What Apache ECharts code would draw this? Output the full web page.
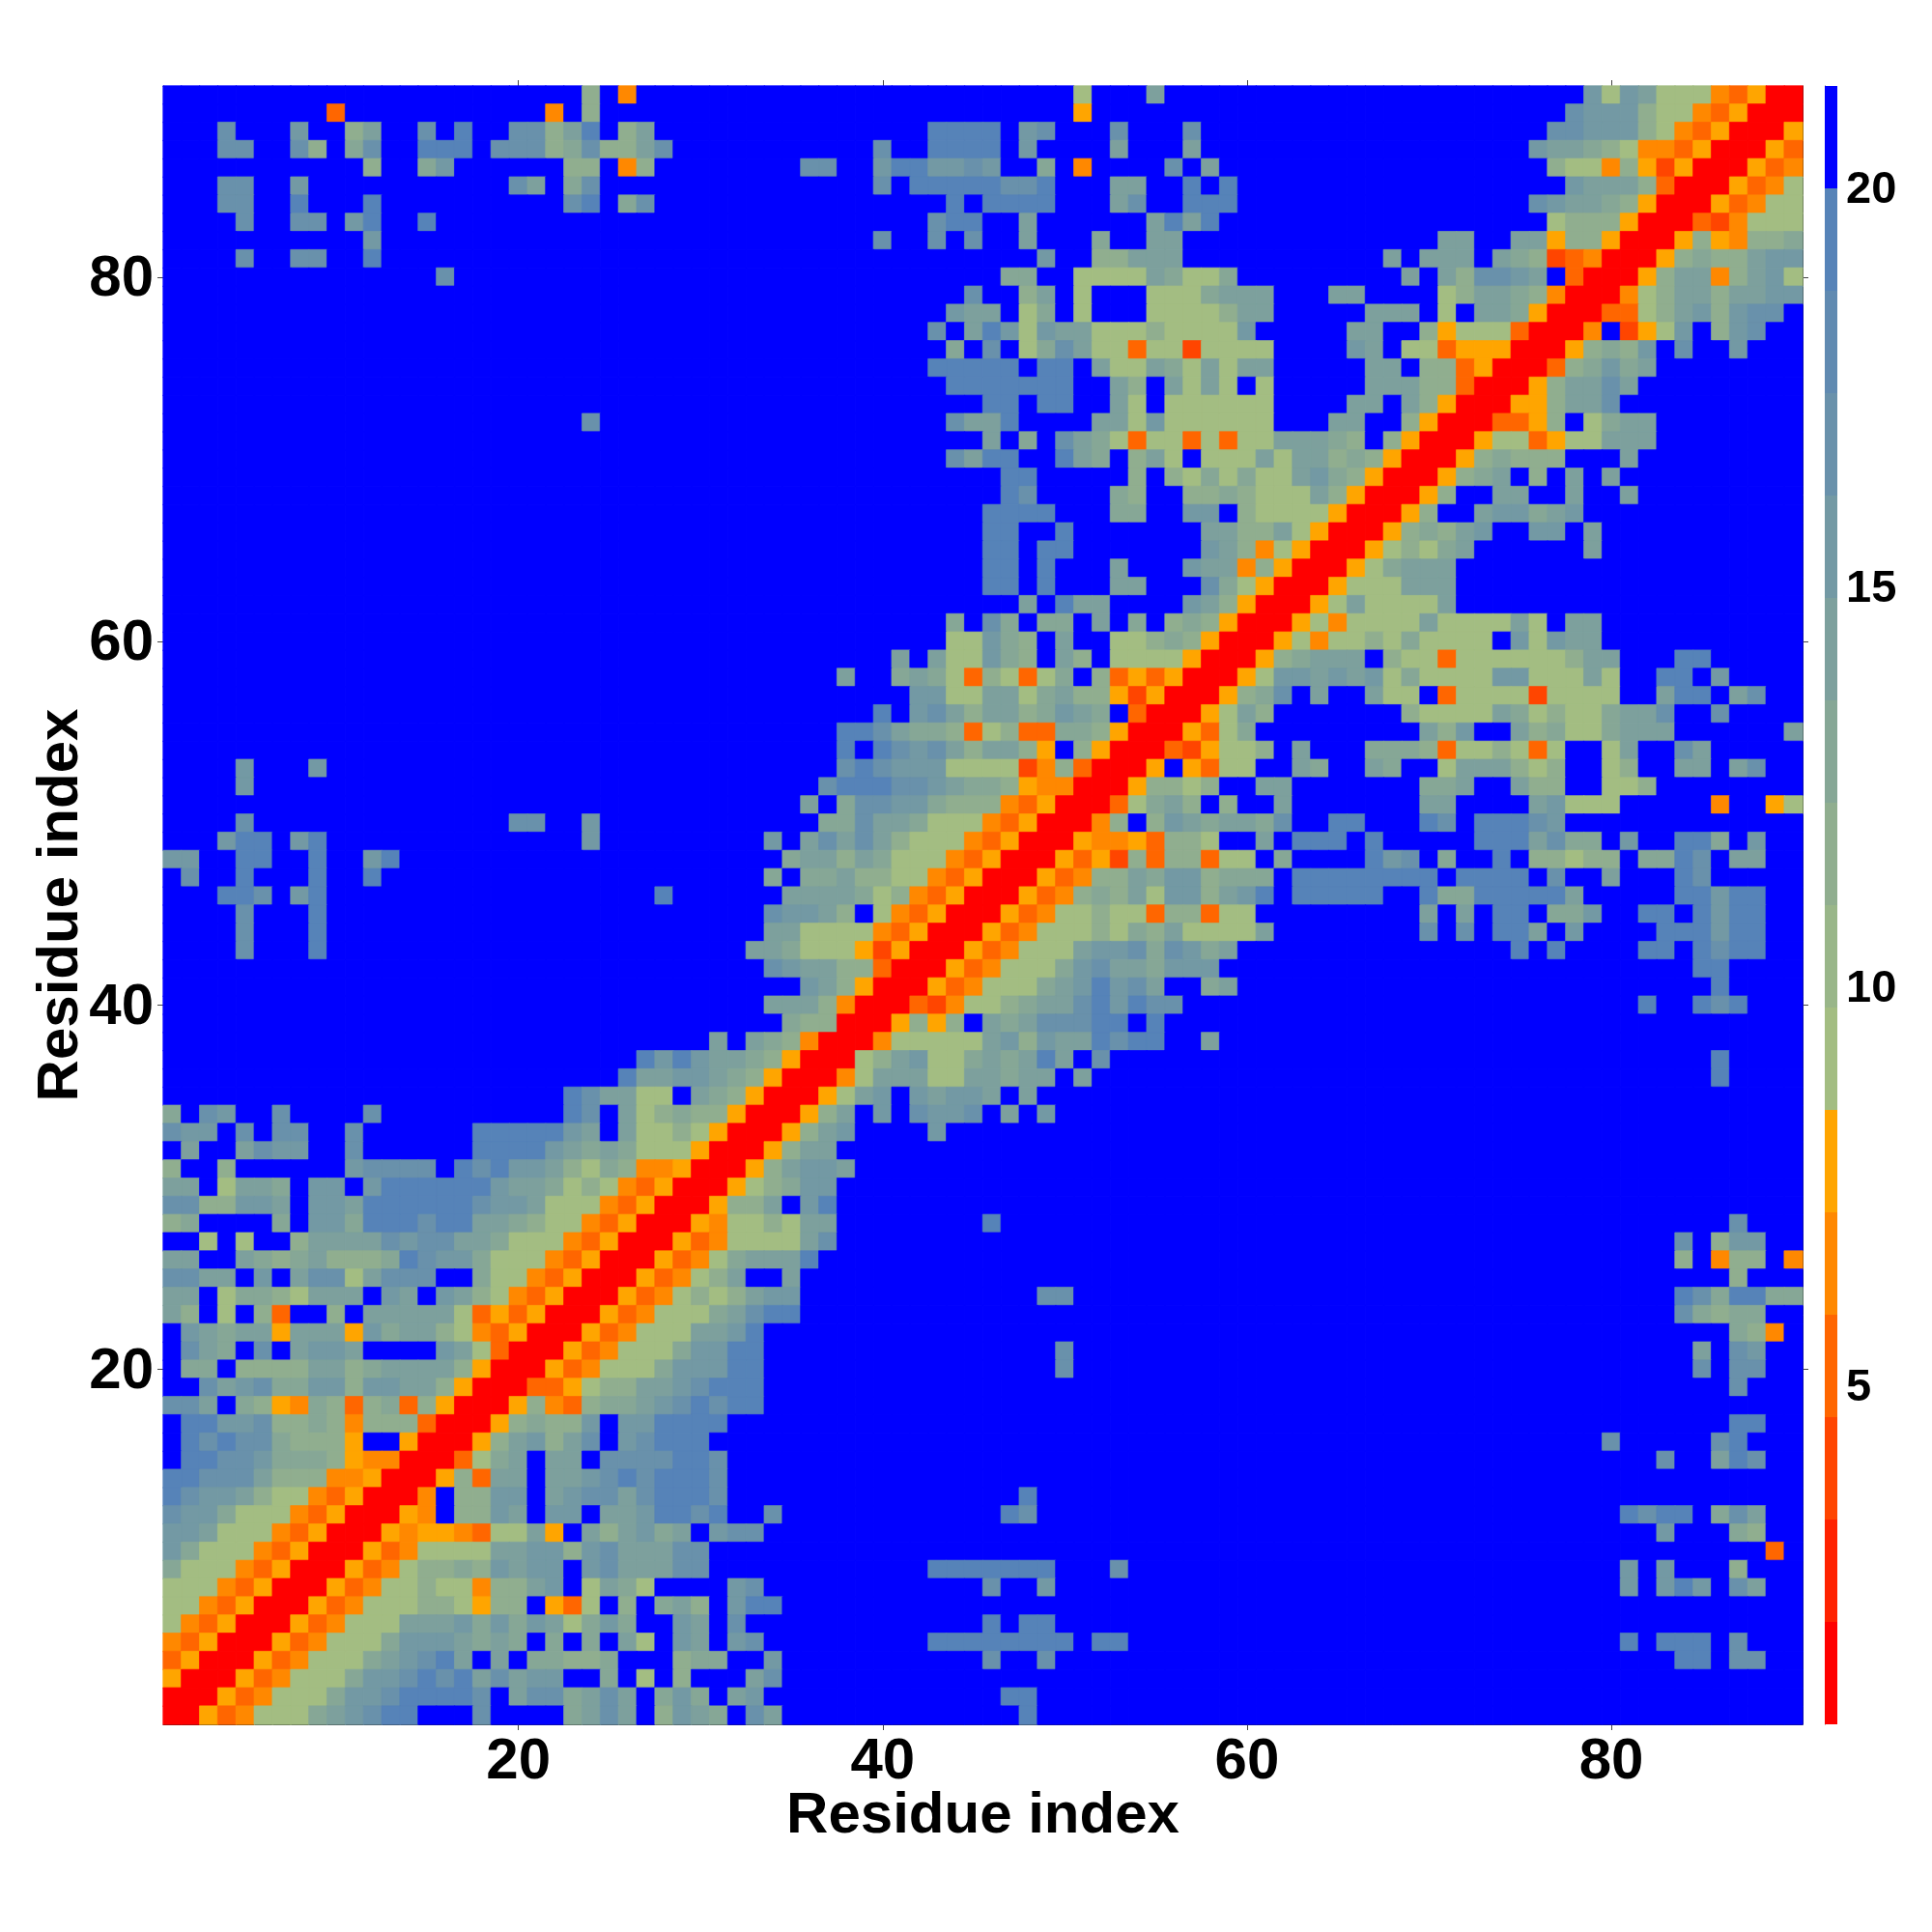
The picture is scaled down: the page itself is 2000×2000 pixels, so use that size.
<!DOCTYPE html>
<html>
<head>
<meta charset="utf-8">
<style>html,body{margin:0;padding:0;background:#fff}#c{width:2000px;height:2000px}</style>
<script src="https://cdn.jsdelivr.net/npm/echarts@6/dist/echarts.min.js"></script>
</head>
<body>
<div id="c"></div>
<script>
// Distance-map cells. One symbol per cell, rows from top (residue 90) down.
// '.' = above 20; 0..5 red to orange bands; 7,8,9,a,b,c,d = green to steel-blue bands.
const topLeft = [
".......................8.4....",
".........3...........4.8......",
"...c...b..8a..c.d..cc8ad.8a...",
"...cc..c8.9c..ddd.ccc89c88ac..",
"...........8..9b......88.48...",
"...cc..b...........ca.9c......",
"...cc..d...d..........cd.9c...",
"....c..cc.bd..d...............",
"...........b..................",
"....c..cc..d..................",
"...............c..............",
"","","","","","","",
".......................c......",
"","","","","","","","","","",""];
const midLeft = [
"","","","","","","",
"....b...b.....................",
"....b.........................",
"",
"....c..............cc..b......",
"...bdd.bd..............b......",
"bb..dd..d..bd.................",
".c..d...d..d..................",
"...ddc.bd..................d..",
"....c...d.....................",
"....c...d.....................",
"....c...d.....................",
"","","","","",
"..........................dbdb",
".........................daabb",
"......................dcaa77.a",
"9.cb..c....c..........dc.a7898",
"cbb.c.cc..c......dddddba.a7787",
".a..acbb..c......ddddba9a97775",
"8..8......bcccc.dcdbba87984450"];
const lowLeft = [
"aa.7aa9.bb.bddddddbaa978743500",
"cc88bba.bbaddddddcbba777435000",
"89....9.bb9dddcddaa98774350005",
"..7.7..8aaaacbccaa977743500053",
"aa..a989a8889dcbb9777435000534",
"ccaa.b.acc7accc..9774350005347",
"aa.79987aaa.ba.ba8743500053478",
"a8.7.83..8.aaaaa73535000534777",
".ba9aa5aaa5b9aa87435000534777a",
".ca9.c.abba....ba730005347779b",
".99.8888aa89aaaa850005347779bb",
"..cabc99bb8bbaa85000335788aabc",
"cca.9854983893850005843899abcd",
".ddbbc88984888300058988b.bbddd",
".dcdcc98885..500058ab8ac.bcddd",
".ddccb9998544000379a.aa.ccccdd",
"ddccca888445000583aa.aabcdcddd",
"dcbba8774350004.88bb.abccacddd",
"cbb977743500054.88ba.bb.aabddc",
"bba77743500054554377a5.a8ab9a.",
"b97774350005347777aabb8bcaaacc",
"977743500053478898babb.bcaaacc",
"77743500053477877488ab.7a97...",
"77435000534777887588.537.8.9a8",
"7435000534777aaab9b9ba79b9..ba",
"4350005347779bbba9a9.9.9.a7.ba",
"350005347779abcda.a.99889...89",
"50005347779bbcdcdacabb..9.7.8.",
"0005347779bbcddddc.acc9aca.9b9",
"005347779abcdd...c....9aca.8ba"];
const topMid = [
"....................7...a.....",
"....................5.........",
"............dddd.bc...c...c...",
".........c..dddd.b....a...a...",
".....cc..bddbbcb..9.4....c.a..",
".........c.dddddccd...aa..d.d.",
".............d.dddd...ac..ddd.",
"............cdd..a......adad..",
".........c..c.c..a...9..aa....",
"..................b..88aaa....",
"................99..7777a9779.",
"..............c..8a.7...7779aa",
".............baa.79.7...77778a",
"............c.adb7baa77787777b",
".............9.c.79ca773772777",
"............ddddd.dd.a77a97a7a",
".............ddddddd..a8.a7a7.",
"...............dd.dd..a7.77777",
".............caad....aa7b77777",
"...............a.9.ca973773737",
".............cadd..da9.8a7.777",
"................dd.....8.87979",
"................dc....98..8898",
"...............dddd...99..bb.8",
"...............dd..d.......aa8",
"...............dd.dd.......ba8",
"...............dd.d...a...baa4",
"...............dd.d...aa...c97",
".................a.daa....ba85",
".............9.c9.99.a.9.89850"];
const midMid = [
".............77b98.a..77898500",
"..........a.a77b98.a8.77775000",
".......a..9a97387379.835350005",
"...........bb77aa79a8852500058",
".........d.bca8aa89ba9.300057a",
".......ddca9983783399850005379",
".......d.dcbca8aa85.8500032577",
".......cdcbbb777724830005.5377",
"......cdddccba99854400058878..",
".....a.9ccbb9888435000379a8.8.",
"......99caa977743500048.8ba9aa",
"...b.acaca877743500054453887..",
"....9aa8a977743500053528388377",
"...9.99a887743500053488a9bb899",
"....aaaa978435000534898a7bb8ab",
"...cbba8.743500053477877388377",
"...aa77774350005347778798a7777",
"..aa9777525000534777abbc9cb9a.",
"...cbaa8830005347779bcaa9bbb..",
".....ba850005347779abdbca..9a.",
"...aaa840003247789aacdbdcc....",
"....9880005858.a9acccdd.d.....",
"a.a984000477777ab8baadcdd..a..",
"aa98500078ab779a9ada.c........",
"a98500047aaa77aa9aa.a.........",
"98500057ab.babba.a............",
"8500058a.b.cbbc.a.b...........",
"500058ab....b.................",
"00058aa.......................",
"0058abba......................"];
const lowMid = [
"05789bb.......................",
"588a.bd.......................",
"47787aa........d..............",
"47777ac.......................",
"79aaad........................",
"8a..a.........................",
"78abb.............cc..........",
"9acdd.........................",
"abd...........................",
"bdd................c..........",
"bdd................c..........",
"ddd...........................",
"cdd...........................",
"d.............................",
"",
"c.............................",
"c.............................",
"c................d............",
"d..c............dc............",
"bcc...........................",
"",
"............ddddddd...c.......",
".bc............c..b...........",
".bdd..........................",
".c.............d.dd...........",
".bc.........dddddddd.dd.......",
"9..b...........c..c...........",
"..ac..........................",
".ab.............dd............",
"9.ca.............d............"];
const topRight = [
"..................b7ba77743500",
".................cbbb877435000",
"................ccbbb874350005",
"...............baa987443500053",
"................87748525000534",
".................baaa830005347",
"...............cbaa98500053477",
"................78885000324777",
"..........aa..aa58850005854889",
".......a.aaa.a9823400058988abb",
"........a.a8ccba.300058aa48ab7",
"a...aa....78aa984000478aa8aabb",
"a.....aaa.7.aa950003378ab8bcc.",
".....aa..8577730004.257b.8bc..",
"7....ba.7735550005898b.c..b...",
"a.....aa.8835000389b9a........",
"7.....aaa88300058aaca.........",
"7....aa.a85000558aac..........",
"7...aa..850003358.79aa........",
"7aaa98.850005773577aaa........",
"a7aa8985000589888...a.........",
"77ab985000589a.8.a.a..........",
"777a8500058..aa..a..a.........",
"7777500058..abb9ab............",
"8a750005898ab..bb.a...........",
"47500057879a......a...........",
"85000579aaa...................",
"50005777aaa...................",
"00057a7777a...................",
"005747777a7777a7.aa..........."];
const midRight = [
"0574778797777.b7baa...........",
"589aaa.87737777778aa...dd.....",
"7bbabab797777bb777a7..dd.b....",
"9c.a..a77.3777727777..add.ac..",
"8.......87777a978779aac..c....",
".........a8b..a89779aaa......a",
"8.a...99983778737..7a..ca.....",
"..a9..a9..7aaa878..78..aa.ac..",
"aa.......99a..a88..778........",
".a.......aa....ab777.....4..57",
"9c..dd...dc.dddcb.............",
"a.ddd.d.....dddac99.b..dd9.b..",
".9....dbc.9..d.88788.99dc.aa..",
"9.dddddddd.dddd.c..a...dc.....",
"d.ddddd..d99ddddda.....ddbdd..",
".........a.a.dd.99b..dd.dbdd..",
"a........c.c.dda.b....dddbdd..",
"..............d.d....dd.dcdd..",
"........................dd....",
".........................d....",
".....................d..dcd...",
"","",
".........................d....",
".........................d....",
"","","","",""];
const lowRight = [
"","",
"..........................c...",
".......................c.8bb..",
".......................8.488.4",
"..........................8...",
".......................dc9dd99",
".......................c9899..",
"..........................984.",
"........................a.cb..",
"........................c.cc..",
"..........................c...",
"",
"..........................dd..",
"...................c.....cd...",
"......................c..adc..",
"","",
"....................dcdd.9ca..",
"......................b...98..",
"............................3.",
"....................b.b...8...",
"....................b.bdb.ca..",
"","",
"....................d.ddd.c...",
".......................dd.cc..",
"","",""];

// Value (Angstrom) represented by each symbol
const symbolValue = {'0':1.40,'1':2.68,'2':3.96,'3':5.24,'4':6.52,'5':7.81,'7':9.09,'8':11.65,'9':12.93,
  'a':14.22,'b':15.50,'c':16.78,'d':19.34,'.':20.63};

// Colour scale bands
const bandEdges = [0.755,2.037,3.319,4.601,5.883,7.165,8.447,9.729,11.011,12.293,13.575,14.857,16.139,17.421,18.703,19.985,21.267];
const bandColors = ['#ff0000','#ff2200','#ff4500','#ff6600','#ff8800','#ffa500','#a3bd82','#99b689','#90ae8f',
  '#86a796','#7da09d','#7399a4','#6991ab','#608ab1','#5683b8','#0000ff'];
const tickLabels = [20,40,60,80];
const barTicks = [5,10,15,20];
const axisTitle = 'Residue index';
const residues = [];
for (let i = 1; i <= 90; i++) residues.push(String(i));

function bandColor(v) {
  for (let i = 0; i < 16; i++) if (v >= bandEdges[i] && v < bandEdges[i + 1]) return bandColors[i];
  return bandColors[15];
}

const cells = [];
[[topLeft,topMid,topRight,60],[midLeft,midMid,midRight,30],[lowLeft,lowMid,lowRight,0]].forEach(function (band) {
  for (let r = 0; r < 30; r++) {
    [band[0],band[1],band[2]].forEach(function (block, b) {
      const s = (block[r] || '');
      for (let c = 0; c < 30; c++) {
        const ch = s.charAt(c) || '.';
        const v = symbolValue[ch];
        // a hairline border in the cell's own colour closes the anti-aliasing seams between cells
        cells.push({value: [b * 30 + c, band[3] + 29 - r, v], itemStyle: {borderColor: bandColor(v), borderWidth: 0.7}});
      }
    });
  }
});

const pieces = bandColors.map(function (col, i) { return {gte: bandEdges[i], lt: bandEdges[i + 1], color: col}; });
const barData = bandColors.map(function (col, i) { return [bandEdges[i], bandEdges[i + 1], i]; });

const FONT = '"Liberation Sans"';
const showTick = function (idx, v) { return tickLabels.indexOf(Number(v)) >= 0; };
const lineStyle = {color: '#222', width: 1};
const tickOn = {show: true, length: 6, alignWithLabel: true, interval: showTick, lineStyle: {color: '#444', width: 1}};

const chart = echarts.init(document.getElementById('c'), null, {renderer: 'canvas', width: 2000, height: 2000});
chart.setOption({
  animation: false,
  backgroundColor: '#fff',
  grid: [
    {left: 169, top: 89, width: 1697, height: 1696},
    {left: 1889, top: 89, width: 13, height: 1696}
  ],
  xAxis: [
    {type: 'category', gridIndex: 0, position: 'bottom', data: residues,
     splitArea: {show: false}, splitLine: {show: false},
     axisLine: {show: true, lineStyle: lineStyle},
     axisTick: tickOn,
     axisLabel: {show: true, interval: showTick, fontFamily: FONT, fontWeight: 'bold', fontSize: 60, color: '#000', margin: 9},
     name: axisTitle, nameLocation: 'middle', nameGap: 65, nameMoveOverlap: false,
     nameTextStyle: {fontFamily: FONT, fontWeight: 'bold', fontSize: 60, color: '#000'}},
    {type: 'category', gridIndex: 0, position: 'top', data: residues,
     axisLine: {show: true, lineStyle: lineStyle}, axisTick: tickOn, axisLabel: {show: false}, splitLine: {show: false}},
    {type: 'value', gridIndex: 1, min: 0, max: 1, show: false}
  ],
  yAxis: [
    {type: 'category', gridIndex: 0, position: 'left', data: residues,
     splitArea: {show: false}, splitLine: {show: false},
     axisLine: {show: true, lineStyle: lineStyle},
     axisTick: tickOn,
     axisLabel: {show: true, interval: showTick, fontFamily: FONT, fontWeight: 'bold', fontSize: 60, color: '#000', margin: 10, verticalAlign: 'top', lineHeight: 6},
     name: axisTitle, nameLocation: 'middle', nameGap: 76, nameMoveOverlap: false,
     nameTextStyle: {fontFamily: FONT, fontWeight: 'bold', fontSize: 60, color: '#000'}},
    {type: 'category', gridIndex: 0, position: 'right', data: residues,
     axisLine: {show: true, lineStyle: lineStyle}, axisTick: tickOn, axisLabel: {show: false}, splitLine: {show: false}},
    {type: 'value', gridIndex: 1, position: 'right', min: bandEdges[0], max: bandEdges[16],
     splitLine: {show: false},
     axisLine: {show: true, lineStyle: {color: '#555', width: 1}},
     axisTick: {show: true, length: 4, customValues: barTicks, lineStyle: {color: '#333', width: 1}},
     axisLabel: {show: true, customValues: barTicks, fontFamily: FONT, fontWeight: 'bold', fontSize: 47, color: '#000', margin: 9, verticalAlign: 'top', lineHeight: 6}}
  ],
  visualMap: {show: false, type: 'piecewise', seriesIndex: 0, dimension: 2, pieces: pieces},
  series: [
    {type: 'heatmap', xAxisIndex: 0, yAxisIndex: 0, data: cells, progressive: 0, animation: false,
     emphasis: {disabled: true}, z: 1},
    {type: 'custom', xAxisIndex: 2, yAxisIndex: 2, data: barData, silent: true, z: 1,
     encode: {y: [0, 1]},
     renderItem: function (params, api) {
       const a = api.coord([0, api.value(0)]);
       const b = api.coord([1, api.value(1)]);
       return {type: 'rect', shape: {x: a[0], y: b[1], width: b[0] - a[0], height: a[1] - b[1]},
               style: {fill: bandColors[api.value(2)], stroke: null}};
     }}
  ]
});
</script>
</body>
</html>
